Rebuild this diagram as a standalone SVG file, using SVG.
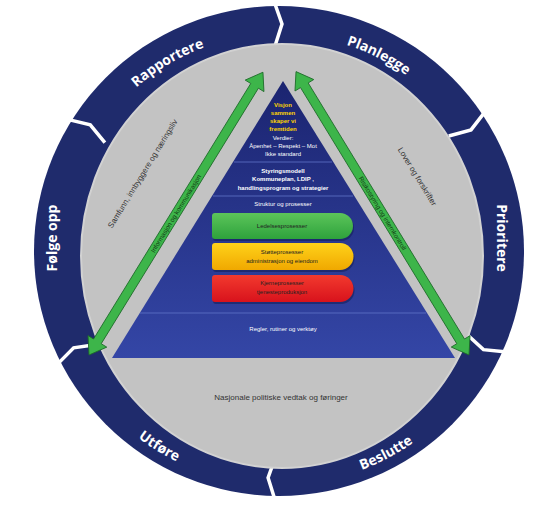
<svg xmlns="http://www.w3.org/2000/svg" width="546" height="523" viewBox="0 0 546 523">
<defs>
<style>
.ring{font-family:"Open Sans","Noto Sans",sans-serif;font-weight:bold;font-size:14px;fill:#fff}
.chev{fill:none;stroke:#fff;stroke-width:3.5;stroke-linejoin:miter}
.gtxt{font-family:"Liberation Sans",Arial,sans-serif;font-size:8px;fill:#333}
.ptxt{font-family:"Liberation Sans",Arial,sans-serif;font-size:6px;fill:#fff;text-anchor:middle}
.yel{fill:#ffd400;font-weight:bold}
.btxt{font-weight:bold}
.pill{font-family:"Liberation Sans",Arial,sans-serif;font-size:6px;fill:#222;text-anchor:middle}
.atxt{font-family:"Liberation Sans",Arial,sans-serif;font-size:6.5px;fill:#123a14;text-anchor:middle}
.sep{stroke:#5f73c8;stroke-width:0.8}
.arrow{fill:#3db54a;stroke:#1d6a28;stroke-width:0.8}
</style>
<linearGradient id="pyr" x1="0" y1="0" x2="0" y2="1">
<stop offset="0" stop-color="#1b2470"/>
<stop offset="1" stop-color="#3446a6"/>
</linearGradient>
<linearGradient id="gp" x1="0" y1="0" x2="0" y2="1">
<stop offset="0" stop-color="#5cc55a"/>
<stop offset="1" stop-color="#2ea23c"/>
</linearGradient>
<linearGradient id="yp" x1="0" y1="0" x2="0" y2="1">
<stop offset="0" stop-color="#ffd21a"/>
<stop offset="1" stop-color="#f0a800"/>
</linearGradient>
<linearGradient id="rp" x1="0" y1="0" x2="0" y2="1">
<stop offset="0" stop-color="#f23a2e"/>
<stop offset="1" stop-color="#d8121c"/>
</linearGradient>
<path id="arcTop" d="M62,251 A217,217 0 0 1 496,251"/>
<path id="arcBot" d="M45,251 A234,234 0 0 0 513,251"/>
</defs>

<g id="ring">
<circle cx="279" cy="251" r="245" fill="#1f2b6c"/>
<g id="dividers">
<path class="chev" d="M275,4 L282,24 L275,46"/>
<path class="chev" d="M275,4 L282,24 L275,46" transform="rotate(57 279 251)"/>
<path class="chev" d="M275,4 L282,24 L275,46" transform="rotate(115 279 251)"/>
<path class="chev" d="M275,4 L282,24 L275,46" transform="rotate(182 279 251)"/>
<path class="chev" d="M275,4 L282,24 L275,46" transform="rotate(244 279 251)"/>
<path class="chev" d="M275,4 L282,24 L275,46" transform="rotate(303 279 251)"/>
</g>
<ellipse cx="282" cy="256" rx="201" ry="212" fill="#c3c3c3" stroke="#d2d2d2" stroke-width="2"/>
</g>

<g id="lbl-rapportere"><text class="ring" text-anchor="middle"><textPath href="#arcTop" startOffset="33%">Rapportere</textPath></text></g>
<g id="lbl-planlegge"><text class="ring" text-anchor="middle"><textPath href="#arcTop" startOffset="65%">Planlegge</textPath></text></g>
<g id="lbl-prioritere"><text class="ring" text-anchor="middle" transform="translate(497 238) rotate(90)">Prioritere</text></g>
<g id="lbl-beslutte"><text class="ring" text-anchor="middle"><textPath href="#arcBot" startOffset="65.5%">Beslutte</textPath></text></g>
<g id="lbl-utfore"><text class="ring" text-anchor="middle"><textPath href="#arcBot" startOffset="32.5%">Utføre</textPath></text></g>
<g id="lbl-folgeopp"><text class="ring" text-anchor="middle" transform="translate(57 238) rotate(-90)">Følge opp</text></g>

<g id="side-texts">
<text class="gtxt" text-anchor="middle" font-size="8.5" transform="translate(145 175) rotate(-58.5)">Samfunn, innbyggere og næringsliv</text>
<text class="gtxt" text-anchor="middle" transform="translate(415 178) rotate(58.5)">Lover og forskrifter</text>
<text class="gtxt" text-anchor="middle" x="281" y="400">Nasjonale politiske vedtak og føringer</text>
</g>

<g id="pyramid">
<polygon points="283,81 455,358 112,358" fill="url(#pyr)"/>
<line class="sep" x1="234" y1="162" x2="332" y2="162"/>
<line class="sep" x1="213" y1="196" x2="353" y2="196"/>
<line class="sep" x1="140" y1="313" x2="426" y2="313"/>
<text class="ptxt yel" x="283" y="107">Visjon</text>
<text class="ptxt yel" x="283" y="115">sammen</text>
<text class="ptxt yel" x="283" y="123">skaper vi</text>
<text class="ptxt yel" x="283" y="131">fremtiden</text>
<text class="ptxt" x="283" y="140">Verdier:</text>
<text class="ptxt" x="283" y="148">Åpenhet – Respekt – Mot</text>
<text class="ptxt" x="283" y="156">Ikke standard</text>
<text class="ptxt btxt" x="283" y="173">Styringsmodell</text>
<text class="ptxt btxt" x="283" y="181">Kommuneplan, LDIP ,</text>
<text class="ptxt btxt" x="283" y="190">handlingsprogram og strategier</text>
<text class="ptxt" x="283" y="206">Struktur og prosesser</text>
<text class="ptxt" x="283" y="331">Regler, rutiner og verktøy</text>
</g>

<g id="pill-ledelse">
<path d="M216,215 H341 A13,13 0 0 1 341,241 H216 Q213,241 213,238 V218 Q213,215 216,215 Z" fill="#15205a" opacity="0.6"/>
<path d="M215,213 H340 A13,13 0 0 1 340,239 H215 Q212,239 212,236 V216 Q212,213 215,213 Z" fill="url(#gp)"/>
<text class="pill" x="282" y="228">Ledelsesprosesser</text>
</g>
<g id="pill-stotte">
<path d="M216,245 H341 A13.5,13.5 0 0 1 341,272 H216 Q213,272 213,269 V248 Q213,245 216,245 Z" fill="#15205a" opacity="0.6"/>
<path d="M215,243 H340 A13.5,13.5 0 0 1 340,270 H215 Q212,270 212,267 V246 Q212,243 215,243 Z" fill="url(#yp)"/>
<text class="pill" x="282" y="254">Støtteprosesser</text>
<text class="pill" x="282" y="263">administrasjon og eiendom</text>
</g>
<g id="pill-kjerne">
<path d="M216,277 H341 A13.5,13.5 0 0 1 341,304 H216 Q213,304 213,301 V280 Q213,277 216,277 Z" fill="#15205a" opacity="0.6"/>
<path d="M215,275 H340 A13.5,13.5 0 0 1 340,302 H215 Q212,302 212,299 V278 Q212,275 215,275 Z" fill="url(#rp)"/>
<text class="pill" x="282" y="285">Kjerneprosesser</text>
<text class="pill" x="282" y="294">tjenesteproduksjon</text>
</g>

<g id="connectors">
<g id="arrow-left" transform="translate(89 355) rotate(-58.4)">
<polygon class="arrow" points="0,0 16,-11 16,-4.5 316,-4.5 316,-11 332,0 316,11 316,4.5 16,4.5 16,11"/>
<text class="atxt" x="166" y="2.3">Informasjon og kommunikasjon</text>
</g>
<g id="arrow-right" transform="translate(469 355) rotate(-121.4)">
<polygon class="arrow" points="0,0 16,-11 16,-4.5 316,-4.5 316,-11 332,0 316,11 316,4.5 16,4.5 16,11"/>
<text class="atxt" x="166" y="2.3" transform="rotate(180 166 0)">Risikostyring og internkontroll</text>
</g>
</g>
</svg>
